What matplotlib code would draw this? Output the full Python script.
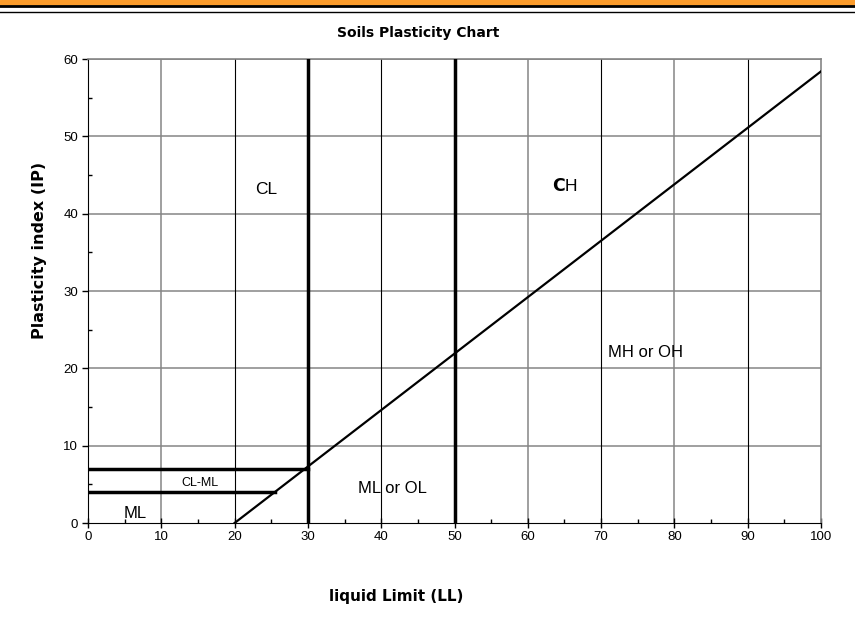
import numpy as np
import matplotlib
matplotlib.use('Agg')
import matplotlib.pyplot as plt
from matplotlib.lines import Line2D
from matplotlib.patches import Rectangle

# chart data
a_line_ll = [20, 100]
a_line_pi = [0, 58.4]
divider_ll = [30, 50]
cl_ml_band = [7, 4]          # horizontal lines (PI) from LL=0
cl_ml_band_end = [30, 25.5]
zone_labels = ['CL', 'MH or OH', 'ML or OL', 'CL-ML', 'ML']
zone_x = [24.3, 76, 41.6, 15.3, 6.5]
zone_y = [43.1, 22.1, 4.5, 5.2, 1.2]
zone_size = [12.5, 12, 12, 9, 12]

x_ticks = list(range(0, 101, 10))
y_ticks = list(range(0, 61, 10))
dark_vgrid = [20, 40, 70, 90]

fig = plt.figure(figsize=(8.55, 6.31), dpi=100)
ax = fig.add_axes([88/855, 1-523/631, (821-88)/855, (523-59)/631])

# page header stripes
fig.patches.append(Rectangle((0, 1-4.5/631), 1, 4.5/631, transform=fig.transFigure,
                             color='#fb9c2c', zorder=0))
fig.add_artist(Line2D([0, 1], [1-5.6/631]*2, transform=fig.transFigure, color='black', lw=2.0))
fig.add_artist(Line2D([0, 1], [1-11.5/631]*2, transform=fig.transFigure, color='black', lw=1.0))

ax.set_xlim(0, 100)
ax.set_ylim(0, 60)
ax.set_xticks(x_ticks)
ax.set_yticks(y_ticks)
ax.set_xticks(np.arange(5, 100, 10), minor=True)
ax.set_yticks(np.arange(5, 60, 10), minor=True)

# gridlines
for y in y_ticks[1:]:
    ax.axhline(y, color='#858585', lw=1.1, zorder=1)
for x in x_ticks[1:-1]:
    if x in dark_vgrid:
        ax.axvline(x, color='black', lw=0.8, zorder=1)
    else:
        ax.axvline(x, color='#858585', lw=1.1, zorder=1)

for lab in ax.get_xticklabels() + ax.get_yticklabels():
    lab.set_fontfamily('Liberation Sans')
    lab.set_fontsize(9.5)
ax.tick_params(axis='x', which='major', direction='inout', length=7, width=1, pad=2)
ax.tick_params(axis='x', which='minor', direction='in', length=3, width=1)
ax.tick_params(axis='y', which='major', direction='out', length=4, width=1, pad=3)
ax.tick_params(axis='y', which='minor', direction='in', length=3, width=1)

ax.spines['left'].set_color('black')
ax.spines['bottom'].set_color('black')
ax.spines['top'].set_color('#858585')
ax.spines['right'].set_color('#858585')
ax.spines['top'].set_linewidth(1.2)
ax.spines['right'].set_linewidth(1.2)

# A-line
ax.plot(a_line_ll, a_line_pi, color='black', lw=1.6, zorder=3)
# LL = 30 and 50 dividers
for ll in divider_ll:
    ax.axvline(ll, color='black', lw=2.5, zorder=3)
# CL-ML band
for pi, end in zip(cl_ml_band, cl_ml_band_end):
    ax.plot([0, end], [pi, pi], color='black', lw=2.5, zorder=3)

for t, x, y, s in zip(zone_labels, zone_x, zone_y, zone_size):
    ax.text(x, y, t, fontsize=s, fontfamily='Liberation Sans', ha='center', va='center', zorder=4)
ax.text(65.1, 43.6, r'$\mathbf{C}$H', fontsize=12.5, fontfamily='Liberation Sans',
        ha='center', va='center', zorder=4)

fig.text(418/855, 1-33/631, 'Soils Plasticity Chart', ha='center', va='center',
         fontsize=10, fontweight='bold')
fig.text(396/855, 1-596/631, 'liquid Limit (LL)', ha='center', va='center',
         fontsize=11, fontweight='bold')
fig.text(40/855, 1-250/631, 'Plasticity index (IP)', ha='center', va='center',
         fontsize=11.5, fontweight='bold', rotation=90)

fig.savefig('out.png', dpi=100)
